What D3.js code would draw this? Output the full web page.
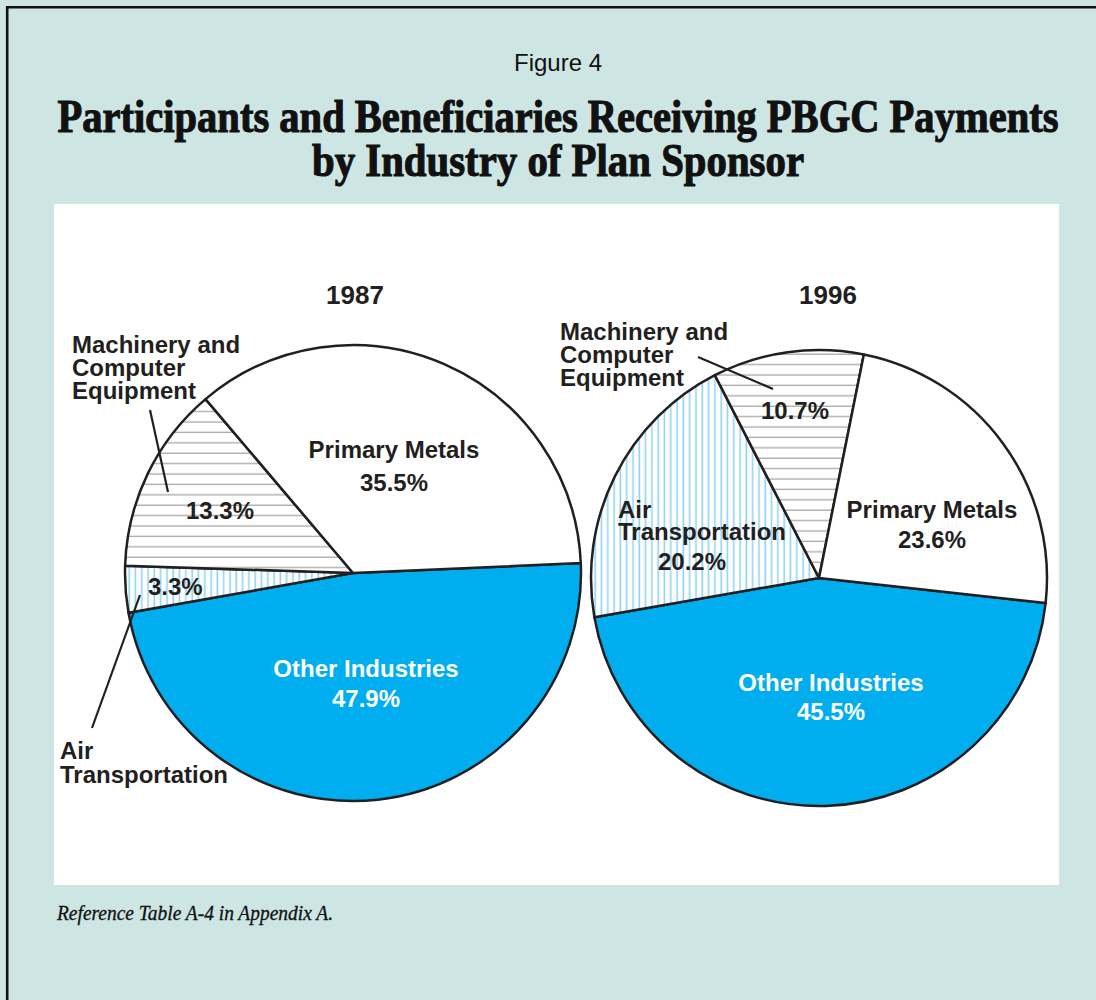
<!DOCTYPE html>
<html>
<head>
<meta charset="utf-8">
<script src="https://cdn.jsdelivr.net/npm/d3@7"></script>
<style>
  html, body { margin: 0; padding: 0; background: #cde6e3; }
  svg { display: block; }
</style>
</head>
<body>
<svg id="chart" width="1096" height="1000"></svg>
<script>
// ---------- data ----------
const categories = ["Other Industries", "Air Transportation", "Machinery and Computer Equipment", "Primary Metals"];
const years = ["1987", "1996"];
const values1987 = [47.9, 3.3, 13.3, 35.5];
const values1996 = [45.5, 20.2, 10.7, 23.6];
const valueLabels1987 = ["47.9%", "3.3%", "13.3%", "35.5%"];
const valueLabels1996 = ["45.5%", "20.2%", "10.7%", "23.6%"];
const figureLabel = "Figure 4";
const titleLines = ["Participants and Beneficiaries Receiving PBGC Payments", "by Industry of Plan Sponsor"];
const footnote = "Reference Table A-4 in Appendix A.";

// ---------- layout ----------
const svg = d3.select("#chart");
const W = 1096, H = 1000;
const bg = "#cde6e3";
const blue = "#00aeef";
const ink = "#231f20";
const sansFont = "'Liberation Sans', Arial, Helvetica, sans-serif";
const serifFont = "'Liberation Serif', 'Times New Roman', serif";

svg.append("rect").attr("width", W).attr("height", H).attr("fill", bg);
// frame: top and left black rules
svg.append("line").attr("x1", 7).attr("y1", 7.2).attr("x2", W).attr("y2", 7.2)
  .attr("stroke", "#111").attr("stroke-width", 2.6);
svg.append("line").attr("x1", 7.2).attr("y1", 6).attr("x2", 7.2).attr("y2", H)
  .attr("stroke", "#111").attr("stroke-width", 2.6);

// white panel
svg.append("rect").attr("x", 54).attr("y", 204).attr("width", 1005).attr("height", 681).attr("fill", "#ffffff");

// header
svg.append("text").attr("x", 558).attr("y", 71).attr("text-anchor", "middle")
  .attr("font-family", sansFont).attr("font-size", 24).attr("fill", "#111").text(figureLabel);

const titleSpecs = [{ y: 132, len: 1001 }, { y: 176, len: 492 }];
titleLines.forEach((t, i) => {
  svg.append("text").attr("x", 558).attr("y", titleSpecs[i].y).attr("text-anchor", "middle")
    .attr("font-family", serifFont).attr("font-weight", "bold").attr("font-size", 46)
    .attr("textLength", titleSpecs[i].len).attr("lengthAdjust", "spacingAndGlyphs")
    .attr("fill", "#111").attr("stroke", "#111").attr("stroke-width", 1.1)
    .text(t);
});

svg.append("text").attr("x", 57).attr("y", 920)
  .attr("font-family", serifFont).attr("font-style", "italic").attr("font-size", 20)
  .attr("textLength", 276).attr("lengthAdjust", "spacingAndGlyphs")
  .attr("fill", "#111").attr("stroke", "#111").attr("stroke-width", 0.3)
  .text(footnote);

// patterns
const defs = svg.append("defs");
const ph = defs.append("pattern").attr("id", "hatchH").attr("patternUnits", "userSpaceOnUse")
  .attr("width", 10).attr("height", 10.4);
ph.append("rect").attr("width", 10).attr("height", 10.4).attr("fill", "#fff");
ph.append("line").attr("x1", 0).attr("x2", 10).attr("y1", 5).attr("y2", 5)
  .attr("stroke", "#a9a9a9").attr("stroke-width", 1.3);
const pv = defs.append("pattern").attr("id", "hatchV").attr("patternUnits", "userSpaceOnUse")
  .attr("width", 6.3).attr("height", 10);
pv.append("rect").attr("width", 6.3).attr("height", 10).attr("fill", "#fff");
pv.append("line").attr("x1", 3).attr("x2", 3).attr("y1", 0).attr("y2", 10)
  .attr("stroke", "#8fd4f3").attr("stroke-width", 1.6);

const fills = d3.scaleOrdinal().domain(categories)
  .range([blue, "url(#hatchV)", "url(#hatchH)", "#ffffff"]);

const radius = 228;
const arc = d3.arc().innerRadius(0).outerRadius(radius);

const pies = [
  { year: years[0], values: values1987, labels: valueLabels1987, cx: 353, cy: 573, start: 87.5 },
  { year: years[1], values: values1996, labels: valueLabels1996, cx: 819, cy: 578, start: 96.3 }
];

pies.forEach(p => {
  const startRad = p.start * Math.PI / 180;
  const pie = d3.pie().sort(null).value(d => d.v)
    .startAngle(startRad).endAngle(startRad + 2 * Math.PI);
  const data = pie(categories.map((c, i) => ({ c, v: p.values[i] })));
  const g = svg.append("g").attr("transform", `translate(${p.cx},${p.cy})`);
  g.selectAll("path").data(data).join("path")
    .attr("d", arc)
    .attr("fill", d => fills(d.data.c))
    .attr("stroke", ink).attr("stroke-width", 2.5).attr("stroke-linejoin", "round");
});

// labels
function label(x, y, lines, opts = {}) {
  const t = svg.append("text")
    .attr("font-family", sansFont).attr("font-weight", "bold")
    .attr("font-size", opts.size || 24)
    .attr("fill", opts.fill || ink)
    .attr("text-anchor", opts.anchor || "middle");
  lines.forEach((l, i) => {
    t.append("tspan").attr("x", x).attr("y", y + i * (opts.lh || 23)).text(l);
  });
}
function leader(x1, y1, x2, y2) {
  svg.append("line").attr("x1", x1).attr("y1", y1).attr("x2", x2).attr("y2", y2)
    .attr("stroke", ink).attr("stroke-width", 2.2);
}

const machLines = ["Machinery and", "Computer", "Equipment"];
const airLines = ["Air", "Transportation"];
const pmName = "Primary Metals";
const oiName = "Other Industries";

// 1987
label(355, 304, [years[0]], { size: 26 });
label(72, 353, machLines, { anchor: "start" });
leader(150, 410, 168, 492);
label(220, 519, [valueLabels1987[2]]);
label(394, 458, [pmName, valueLabels1987[3]], { lh: 33 });
label(148, 595, [valueLabels1987[1]], { anchor: "start" });
leader(140, 595, 92, 728);
label(60, 759, airLines, { anchor: "start", lh: 24 });
label(366, 677, [oiName, valueLabels1987[0]], { fill: "#ffffff", lh: 30 });

// 1996
label(828, 304, [years[1]], { size: 26 });
label(560, 340, machLines, { anchor: "start" });
leader(698, 357, 773, 389);
label(795, 419, [valueLabels1996[2]]);
label(618, 518, airLines, { anchor: "start", lh: 22 });
label(692, 570, [valueLabels1996[1]]);
label(932, 518, [pmName, valueLabels1996[3]], { lh: 30 });
label(831, 691, [oiName, valueLabels1996[0]], { fill: "#ffffff", lh: 29 });
</script>
</body>
</html>
